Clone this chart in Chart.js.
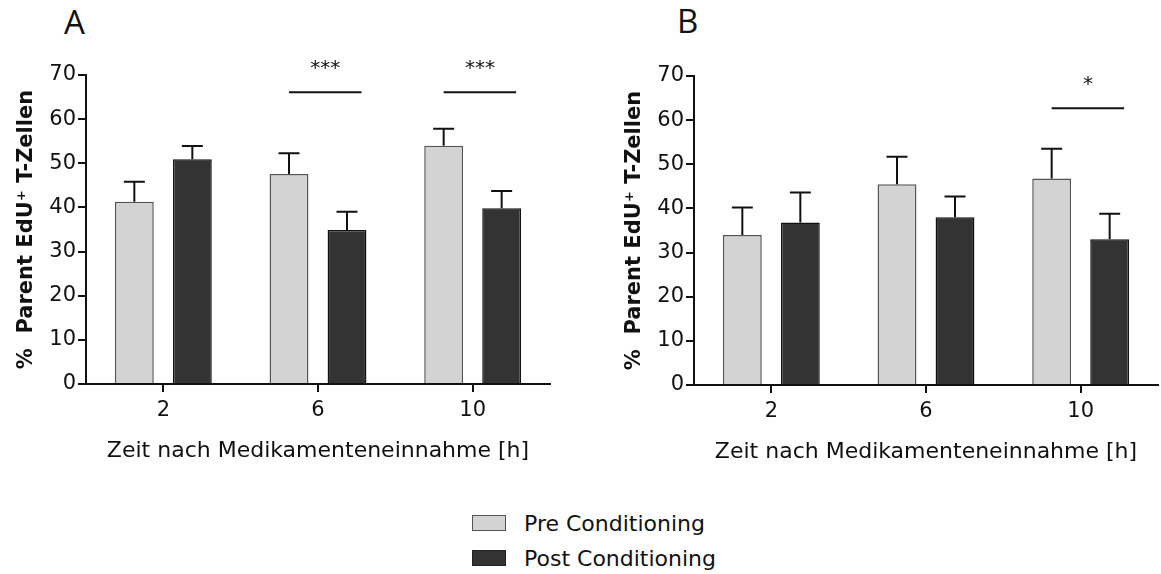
<!DOCTYPE html>
<html>
<head>
<meta charset="utf-8">
<script src="https://cdn.jsdelivr.net/npm/chart.js@4.4.1/dist/chart.umd.min.js"></script>
<style>
  body { margin: 0; background: #fff; }
  #page { position: relative; width: 1161px; height: 574px; overflow: hidden; font-family: 'DejaVu Sans', sans-serif; color: #111; }
  canvas { position: absolute; }
  .panel-label { position: absolute; font-family: 'Open Sans', sans-serif; font-size: 33px; line-height: 33px; color: #111; }
  .legend-row { position: absolute; left: 472px; height: 26px; display: flex; align-items: center; font-size: 22px; }
  .swatch { width: 32px; height: 14px; margin-right: 18px; border: 1px solid #555; }
</style>
</head>
<body>
<div id="page">
  <div class="panel-label" style="left:64px; top:5px;">A</div>
  <div class="panel-label" style="left:677px; top:4px;">B</div>
  <canvas id="chartA" width="580" height="480" style="left:0; top:0;"></canvas>
  <canvas id="chartB" width="553" height="480" style="left:608px; top:1px;"></canvas>
  <div class="legend-row" style="top:510px;"><span class="swatch" style="background:#d3d3d3;"></span>Pre Conditioning</div>
  <div class="legend-row" style="top:545px;"><span class="swatch" style="background:#333333; border-color:#222;"></span>Post Conditioning</div>
</div>
<script>
// Stunden nach Einnahme
const hours = ['2', '6', '10'];

// Panel A: Mittelwert und Fehler (obere Balken)
const preA = [41.3, 47.6, 54.0];
const preAErr = [4.5, 4.7, 3.8];
const postA = [50.9, 34.9, 39.8];
const postAErr = [3.0, 4.1, 3.9];

// Panel B
const preB = [34.0, 45.5, 46.8];
const preBErr = [6.2, 6.2, 6.7];
const postB = [36.8, 38.0, 33.0];
const postBErr = [6.8, 4.7, 5.8];

// Signifikanzen
const sigA = [{ at: '6', level: 66.1, text: '***' }, { at: '10', level: 66.1, text: '***' }];
const sigB = [{ at: '10', level: 62.7, text: '*' }];

const yMin = 0;
const yMax = 70;
const yStep = 10;

const seriesNames = ['Pre Conditioning', 'Post Conditioning'];
const xTitle = 'Zeit nach Medikamenteneinnahme [h]';
const yTitle = '%  Parent EdU\u207A T-Zellen';

Chart.defaults.font.family = "'DejaVu Sans', sans-serif";
Chart.defaults.color = '#111';

// Fehlerbalken nur nach oben, mit Querstrich
const errorBarPlugin = {
  id: 'errorBars',
  afterDatasetsDraw(chart) {
    const ctx = chart.ctx;
    const yScale = chart.scales.y;
    ctx.save();
    ctx.strokeStyle = '#111';
    ctx.lineWidth = 2;
    chart.data.datasets.forEach((ds, i) => {
      const meta = chart.getDatasetMeta(i);
      meta.data.forEach((bar, j) => {
        const top = yScale.getPixelForValue(ds.data[j] + ds.errors[j]);
        const cap = bar.width * 0.27;
        ctx.beginPath();
        ctx.moveTo(bar.x, bar.y);
        ctx.lineTo(bar.x, top);
        ctx.moveTo(bar.x - cap, top);
        ctx.lineTo(bar.x + cap, top);
        ctx.stroke();
      });
    });
    ctx.restore();
  }
};

function makeSigPlugin(marks) {
  return {
    id: 'sigBars',
    afterDatasetsDraw(chart) {
      const ctx = chart.ctx;
      const yScale = chart.scales.y;
      const pre = chart.getDatasetMeta(0).data;
      const post = chart.getDatasetMeta(1).data;
      ctx.save();
      ctx.strokeStyle = '#111';
      ctx.fillStyle = '#111';
      ctx.lineWidth = 2;
      ctx.font = "20px 'DejaVu Sans', sans-serif";
      ctx.textAlign = 'center';
      ctx.textBaseline = 'alphabetic';
      marks.forEach(m => {
        const idx = chart.data.labels.indexOf(m.at);
        const x1 = pre[idx].x;
        const x2 = post[idx].x + post[idx].width / 2 - 5;
        const y = yScale.getPixelForValue(m.level);
        ctx.beginPath();
        ctx.moveTo(x1, y);
        ctx.lineTo(x2, y);
        ctx.stroke();
        ctx.fillText(m.text, (x1 + x2) / 2, y - 18);
      });
      ctx.restore();
    }
  };
}

function makeChart(id, pre, preErr, post, postErr, marks, padRight) {
  const ctx = document.getElementById(id).getContext('2d');
  return new Chart(ctx, {
    type: 'bar',
    data: {
      labels: hours,
      datasets: [
        {
          label: seriesNames[0],
          data: pre,
          errors: preErr,
          backgroundColor: '#d3d3d3',
          borderColor: '#555',
          borderWidth: 1.5
        },
        {
          label: seriesNames[1],
          data: post,
          errors: postErr,
          backgroundColor: '#333333',
          borderColor: '#111',
          borderWidth: 1.5
        }
      ]
    },
    options: {
      responsive: false,
      animation: false,
      layout: { padding: { left: 0, top: 75, right: padRight, bottom: 0 } },
      datasets: {
        bar: { categoryPercentage: 0.75, barPercentage: 0.67 }
      },
      plugins: {
        legend: { display: false },
        tooltip: { enabled: false }
      },
      scales: {
        x: {
          afterFit(scale) { scale.height = 96; },
          grid: { offset: false, drawOnChartArea: false, color: '#111', lineWidth: 2, tickLength: 8 },
          border: { display: true, color: '#111', width: 2 },
          ticks: { font: { size: 21 }, color: '#111', padding: 6 },
          title: {
            display: true,
            text: xTitle,
            color: '#111',
            font: { size: 22 },
            padding: { top: 0, bottom: 16 }
          }
        },
        y: {
          min: yMin,
          max: yMax,
          afterFit(scale) { scale.width = 86; },
          grid: { drawOnChartArea: false, color: '#111', lineWidth: 2, tickLength: 8 },
          border: { display: true, color: '#111', width: 2 },
          ticks: { stepSize: yStep, font: { size: 21 }, color: '#111', padding: 2 },
          title: {
            display: true,
            text: yTitle,
            color: '#111',
            font: { size: 21, weight: 'bold' },
            padding: { top: 14, bottom: 0 }
          }
        }
      }
    },
    plugins: [errorBarPlugin, makeSigPlugin(marks)]
  });
}

makeChart('chartA', preA, preAErr, postA, postAErr, sigA, 30);
makeChart('chartB', preB, preBErr, postB, postBErr, sigB, 3);
</script>
</body>
</html>
